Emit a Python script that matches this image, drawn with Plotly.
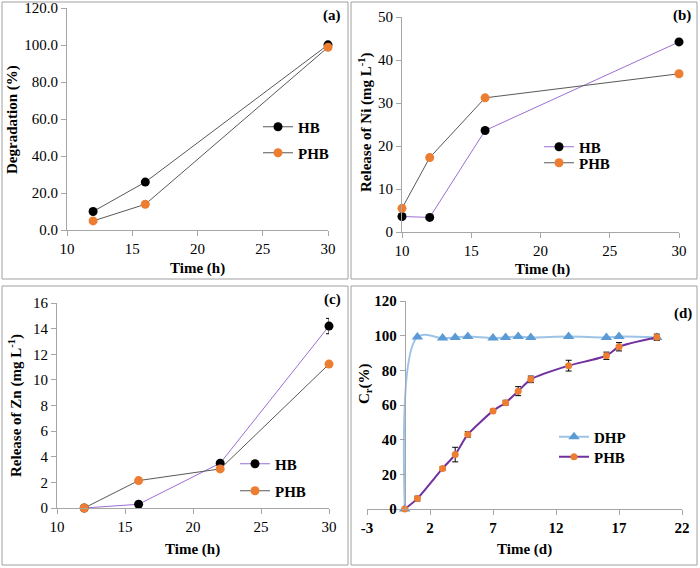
import plotly.graph_objects as go

W, H = 700, 568

# ---------------- data ----------------
a_time = [12, 16, 30]
a_hb = [10.0, 25.9, 100.1]
a_phb = [4.9, 13.9, 98.8]

b_time = [10, 12, 16, 30]
b_hb = [3.6, 3.4, 23.6, 44.2]
b_phb = [5.5, 17.3, 31.2, 36.8]

c_time = [12, 16, 22, 30]
c_hb = [0.0, 0.29, 3.5, 14.2]
c_hb_err = [0, 0, 0, 0.6]
c_phb = [0.0, 2.14, 3.05, 11.23]

d_time = [0, 1, 3, 4, 5, 7, 8, 9, 10, 13, 16, 17, 20]
d_dhp = [0, 99.2, 98.6, 99.0, 99.5, 98.6, 99.0, 99.5, 99.0, 99.5, 99.0, 99.5, 99.0]
d_phb = [0, 6.0, 23.4, 31.4, 43.0, 56.6, 61.3, 68.0, 74.8, 82.7, 88.4, 93.6, 99.1]
d_phb_err = [0, 1.4, 1.0, 4.2, 1.6, 1.0, 1.4, 2.6, 1.9, 3.1, 2.1, 2.4, 1.8]
d_xticks = [-3, 2, 7, 12, 17, 22]
d_xticklabels = ["-3", "2", "7", "12", "17", "22"]

FONT = "Liberation Serif"
GREY_LINE = "#595959"
PURPLE_LIGHT = "#9B6FD3"
PURPLE = "#7030A0"
ORANGE = "#ED7D31"
BLUE = "#5B9BD5"
BLUE_LIGHT = "#9DC3E6"
AXIS = "#A6A6A6"


def px_x(p):
    return p / W


def px_y(p):
    return 1 - p / H


fig = go.Figure()

panels = {
    "a": dict(box=(2, 2, 348, 279), area=(67, 8, 328, 230)),
    "b": dict(box=(351, 2, 697, 279), area=(402, 17, 679, 232)),
    "c": dict(box=(2, 286, 348, 565), area=(57, 303, 329, 508)),
    "d": dict(box=(351, 286, 697, 565), area=(367, 301, 682, 509)),
}

mk = dict(size=9, line=dict(width=0))

# (a)
fig.add_trace(go.Scatter(x=a_time, y=a_hb, name="HB", mode="lines+markers",
                         line=dict(color=GREY_LINE, width=1), marker=dict(color="black", **mk),
                         xaxis="x", yaxis="y", legend="legend", cliponaxis=False))
fig.add_trace(go.Scatter(x=a_time, y=a_phb, name="PHB", mode="lines+markers",
                         line=dict(color=GREY_LINE, width=1), marker=dict(color=ORANGE, **mk),
                         xaxis="x", yaxis="y", legend="legend2", cliponaxis=False))
# (b)
fig.add_trace(go.Scatter(x=b_time, y=b_hb, name="HB", mode="lines+markers",
                         line=dict(color=PURPLE_LIGHT, width=1), marker=dict(color="black", **mk),
                         xaxis="x2", yaxis="y2", legend="legend3", cliponaxis=False))
fig.add_trace(go.Scatter(x=b_time, y=b_phb, name="PHB", mode="lines+markers",
                         line=dict(color=GREY_LINE, width=1), marker=dict(color=ORANGE, **mk),
                         xaxis="x2", yaxis="y2", legend="legend4", cliponaxis=False))
# (c)
fig.add_trace(go.Scatter(x=c_time, y=c_hb, name="HB", mode="lines+markers",
                         line=dict(color=PURPLE_LIGHT, width=1), marker=dict(color="black", **mk),
                         error_y=dict(type="data", array=c_hb_err, color="black", thickness=1, width=3),
                         xaxis="x3", yaxis="y3", legend="legend5", cliponaxis=False))
fig.add_trace(go.Scatter(x=c_time, y=c_phb, name="PHB", mode="lines+markers",
                         line=dict(color=GREY_LINE, width=1), marker=dict(color=ORANGE, **mk),
                         xaxis="x3", yaxis="y3", legend="legend6", cliponaxis=False))
# (d)
fig.add_trace(go.Scatter(x=d_time, y=d_dhp, name="DHP", mode="lines+markers",
                         line=dict(color=BLUE_LIGHT, width=2, shape="spline", smoothing=1),
                         marker=dict(color=BLUE, symbol="triangle-up", size=10, line=dict(width=0)),
                         xaxis="x4", yaxis="y4", legend="legend7", cliponaxis=False))
fig.add_trace(go.Scatter(x=d_time, y=d_phb, name="PHB", mode="lines+markers",
                         line=dict(color=PURPLE, width=2, shape="spline", smoothing=0.6),
                         marker=dict(color=ORANGE, symbol="circle", size=7, line=dict(width=0)),
                         error_y=dict(type="data", array=d_phb_err, color="black", thickness=1, width=3),
                         xaxis="x4", yaxis="y4", legend="legend8", cliponaxis=False))

ranges = {
    "a": dict(x=[10, 30], xd=5, x0=10, y=[0, 120], yd=20, yfmt=".1f", bold=False),
    "b": dict(x=[10, 30], xd=5, x0=10, y=[0, 50], yd=10, yfmt="", bold=False),
    "c": dict(x=[10, 30], xd=5, x0=10, y=[0, 16], yd=2, yfmt="", bold=False),
    "d": dict(x=[-3, 22], xd=5, x0=-3, y=[0, 120], yd=20, yfmt="", bold=True),
}

layout = dict(width=W, height=H, margin=dict(l=0, r=0, t=0, b=0, pad=0, autoexpand=False),
              paper_bgcolor="white", plot_bgcolor="white", showlegend=True,
              font=dict(family=FONT, size=15, color="black"))

for i, key in enumerate(["a", "b", "c", "d"]):
    p = panels[key]
    r = ranges[key]
    x0, y0, x1, y1 = p["area"]
    sfx = "" if i == 0 else str(i + 1)
    tf = dict(family=FONT, size=15, color="black",
              weight="bold" if r["bold"] else "normal")
    xa = dict(domain=[px_x(x0), px_x(x1)], range=r["x"], tick0=r["x0"], dtick=r["xd"],
              anchor="y" + sfx, showgrid=False, zeroline=False, automargin=False,
              showline=True, linecolor=AXIS, linewidth=1,
              ticks="outside", ticklen=5, tickcolor=AXIS, tickfont=tf)
    ya = dict(domain=[px_y(y1), px_y(y0)], range=r["y"], dtick=r["yd"],
              anchor="x" + sfx, showgrid=False, zeroline=False, automargin=False,
              showline=True, linecolor=AXIS, linewidth=1,
              ticks="outside", ticklen=5, tickcolor=AXIS, tickfont=tf,
              tickformat=r["yfmt"])
    if key == "d":
        xa.update(tickmode="array", tickvals=d_xticks, ticktext=d_xticklabels)
        # y axis crosses the x axis at x = 0
        x_zero = x0 + (0 - r["x"][0]) / (r["x"][1] - r["x"][0]) * (x1 - x0)
        ya.update(anchor="free", position=px_x(x_zero))
    layout["xaxis" + sfx] = xa
    layout["yaxis" + sfx] = ya

leg_pos = {
    "legend": (268, 127), "legend2": (268, 153),
    "legend3": (549, 147), "legend4": (549, 163),
    "legend5": (245, 464), "legend6": (245, 491),
    "legend7": (564, 437), "legend8": (564, 457),
}
for name, (lx, ly) in leg_pos.items():
    layout[name] = dict(x=px_x(lx - 10), y=px_y(ly), xanchor="left", yanchor="middle",
                        bgcolor="rgba(0,0,0,0)", borderwidth=0,
                        font=dict(family=FONT, size=15, color="black", weight="bold"),
                        itemwidth=30)

shapes = []
for key, p in panels.items():
    bx0, by0, bx1, by1 = p["box"]
    shapes.append(dict(type="rect", xref="paper", yref="paper",
                       x0=px_x(bx0), x1=px_x(bx1), y0=px_y(by1), y1=px_y(by0),
                       line=dict(color="#A0A0A0", width=1)))
layout["shapes"] = shapes

bold = dict(family=FONT, size=15, color="black", weight="bold")
ann = []
for txt, x, y in [("(a)", 332, 16), ("(b)", 682, 16), ("(c)", 332, 299), ("(d)", 683, 313)]:
    ann.append(dict(text=txt, x=px_x(x), y=px_y(y), xref="paper", yref="paper",
                    showarrow=False, font=bold, xanchor="center", yanchor="middle"))
for txt, x, y, ang in [
    ("Time (h)", 197, 268, 0), ("Degradation (%)", 13, 120, -90),
    ("Time (h)", 542, 269, 0), ("Release of Ni (mg L<sup>-1</sup>)", 365, 122, -90),
    ("Time (h)", 193, 549, 0), ("Release of Zn (mg L<sup>-1</sup>)", 15, 406, -90),
    ("Time (d)", 524, 549, 0), ("C<sub>r</sub>(%)", 365, 384, -90),
]:
    ann.append(dict(text=txt, x=px_x(x), y=px_y(y), xref="paper", yref="paper",
                    showarrow=False, font=bold, textangle=ang,
                    xanchor="center", yanchor="middle"))
layout["annotations"] = ann

fig.update_layout(**layout)
fig.write_html("out.html", config={"displayModeBar": False},
               post_script="document.body.style.margin='0';document.body.style.overflow='hidden';")
